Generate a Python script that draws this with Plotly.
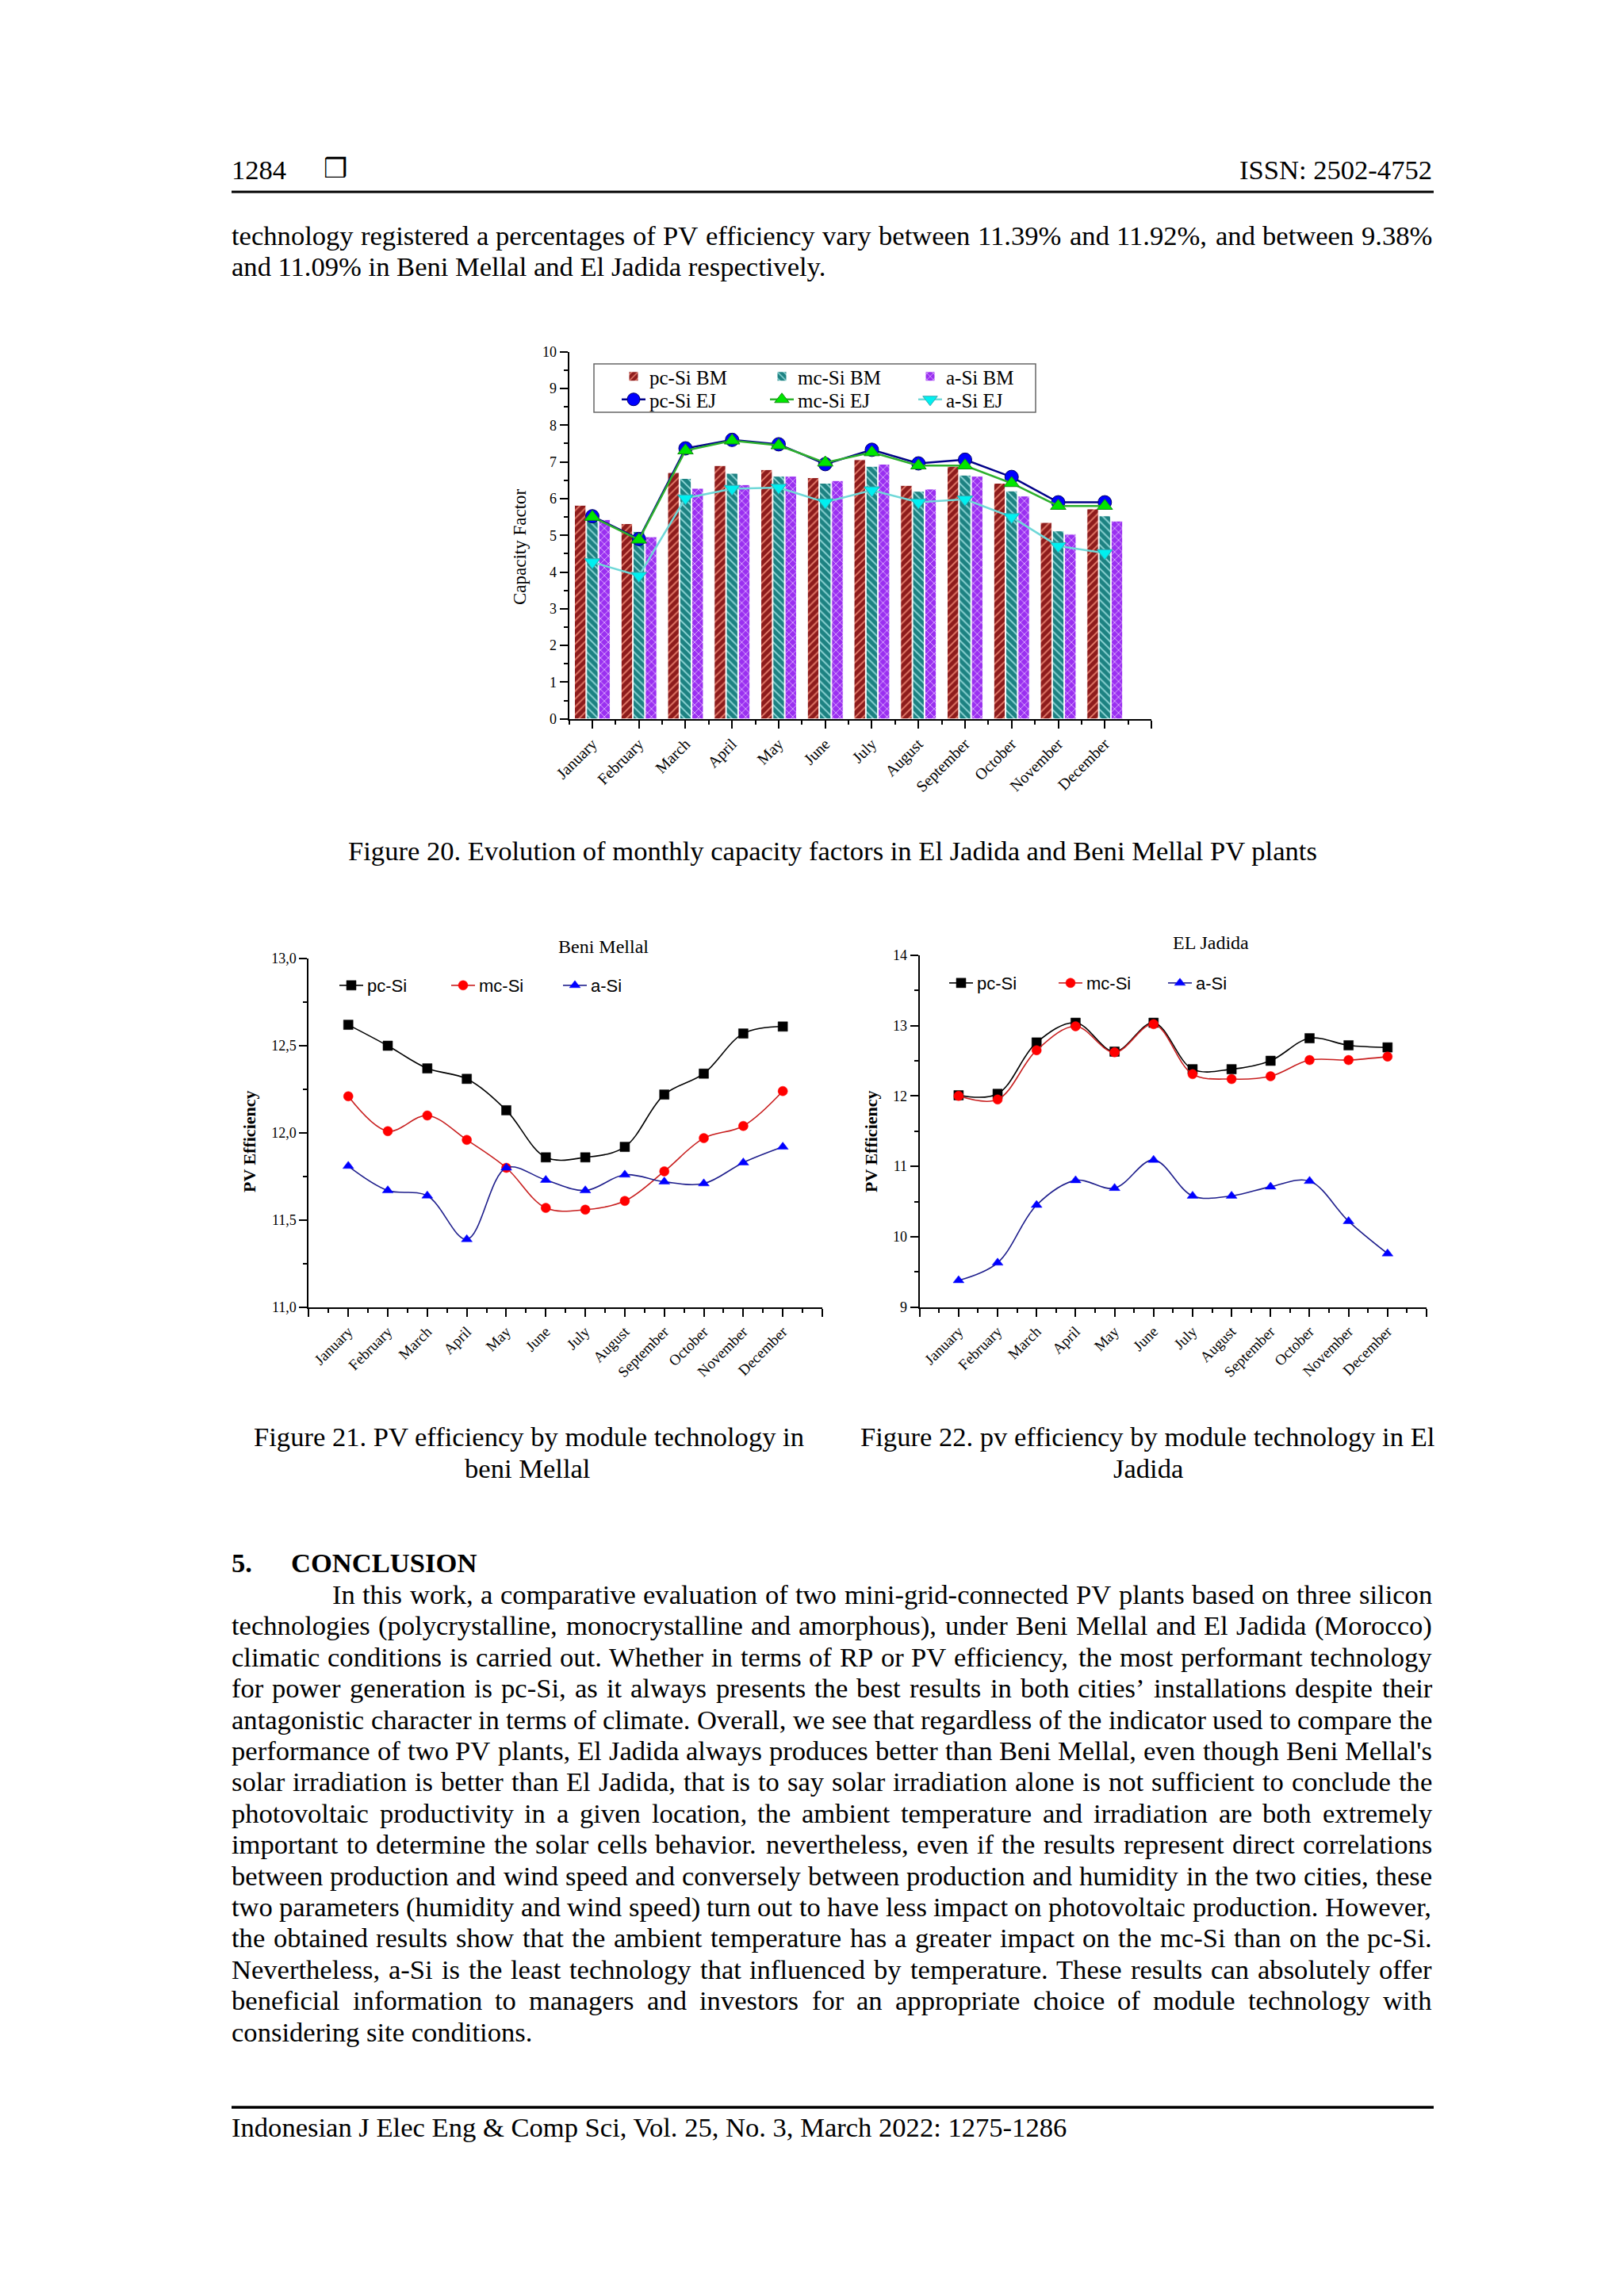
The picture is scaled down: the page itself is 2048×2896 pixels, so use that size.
import plotly.graph_objects as go

W, H = 2048, 2896
SERIF = "Liberation Serif, Times New Roman, serif"
SANS = "Liberation Sans, Arial, sans-serif"
FS = 34.6

# ---------------- data ----------------
months = ["January", "February", "March", "April", "May", "June", "July",
          "August", "September", "October", "November", "December"]
month_pos = list(range(1, 13))

# Figure 20 - capacity factor (%)
cf_pcsi_bm = [5.82, 5.32, 6.71, 6.90, 6.79, 6.57, 7.06, 6.36, 6.88, 6.42, 5.35, 5.72]
cf_mcsi_bm = [5.62, 5.10, 6.55, 6.69, 6.61, 6.42, 6.88, 6.20, 6.64, 6.21, 5.12, 5.53]
cf_asi_bm = [5.43, 4.96, 6.28, 6.38, 6.61, 6.49, 6.94, 6.26, 6.61, 6.07, 5.03, 5.39]
cf_pcsi_ej = [5.52, 4.90, 7.37, 7.60, 7.48, 6.94, 7.33, 6.96, 7.06, 6.59, 5.90, 5.90]
cf_mcsi_ej = [5.50, 4.88, 7.31, 7.58, 7.45, 6.98, 7.26, 6.90, 6.90, 6.42, 5.80, 5.80]
cf_asi_ej = [4.27, 3.90, 6.01, 6.27, 6.30, 5.90, 6.23, 5.90, 5.98, 5.50, 4.71, 4.52]

# Figure 21 - PV efficiency Beni Mellal
bm_pcsi = [12.62, 12.50, 12.37, 12.31, 12.13, 11.86, 11.86, 11.92, 12.22, 12.34, 12.57, 12.61]
bm_mcsi = [12.21, 12.01, 12.10, 11.96, 11.80, 11.57, 11.56, 11.61, 11.78, 11.97, 12.04, 12.24]
bm_asi = [11.81, 11.67, 11.64, 11.39, 11.80, 11.73, 11.67, 11.76, 11.72, 11.71, 11.83, 11.92]

# Figure 22 - PV efficiency El Jadida
ej_pcsi = [12.01, 12.03, 12.76, 13.04, 12.63, 13.04, 12.38, 12.38, 12.50, 12.82, 12.72, 12.69]
ej_mcsi = [12.00, 11.95, 12.65, 12.99, 12.62, 13.02, 12.31, 12.24, 12.28, 12.51, 12.51, 12.56]
ej_asi = [9.38, 9.63, 10.45, 10.80, 10.69, 11.09, 10.58, 10.58, 10.71, 10.79, 10.22, 9.76]

bm_yticks = [11.0, 11.5, 12.0, 12.5, 13.0]
bm_yticktext = ["11,0", "11,5", "12,0", "12,5", "13,0"]

# ---------------- page text ----------------
body_lines = [
    "technology registered a percentages of PV efficiency vary between 11.39% and 11.92%, and between 9.38%",
    "and 11.09% in Beni Mellal and El Jadida respectively.",
]
conclusion_lines = [
    "In this work, a comparative evaluation of two mini-grid-connected PV plants based on three silicon",
    "technologies (polycrystalline, monocrystalline and amorphous), under Beni Mellal and El Jadida (Morocco)",
    "climatic conditions is carried out. Whether in terms of RP or PV efficiency, the most performant technology",
    "for power generation is pc-Si, as it always presents the best results in both cities\u2019 installations despite their",
    "antagonistic character in terms of climate. Overall, we see that regardless of the indicator used to compare the",
    "performance of two PV plants, El Jadida always produces better than Beni Mellal, even though Beni Mellal's",
    "solar irradiation is better than El Jadida, that is to say solar irradiation alone is not sufficient to conclude the",
    "photovoltaic productivity in a given location, the ambient temperature and irradiation are both extremely",
    "important to determine the solar cells behavior. nevertheless, even if the results represent direct correlations",
    "between production and wind speed and conversely between production and humidity in the two cities, these",
    "two parameters (humidity and wind speed) turn out to have less impact on photovoltaic production. However,",
    "the obtained results show that the ambient temperature has a greater impact on the mc-Si than on the pc-Si.",
    "Nevertheless, a-Si is the least technology that influenced by temperature. These results can absolutely offer",
    "beneficial information to managers and investors for an appropriate choice of module technology with",
    "considering site conditions.",
]

_TW = {' ': 250, '!': 333, '"': 408, '#': 500, '$': 500, '%': 833, '&': 778, "'": 180,
       '(': 333, ')': 333, '*': 500, '+': 564, ',': 250, '-': 333, '.': 250, '/': 278,
       ':': 278, ';': 278, '?': 444, '\u2019': 333,
       'A': 722, 'B': 667, 'C': 667, 'D': 722, 'E': 611, 'F': 556, 'G': 722, 'H': 722,
       'I': 333, 'J': 389, 'K': 722, 'L': 611, 'M': 889, 'N': 722, 'O': 722, 'P': 556,
       'Q': 722, 'R': 667, 'S': 556, 'T': 611, 'U': 722, 'V': 722, 'W': 944, 'X': 722,
       'Y': 722, 'Z': 611,
       'a': 444, 'b': 500, 'c': 444, 'd': 500, 'e': 444, 'f': 333, 'g': 500, 'h': 500,
       'i': 278, 'j': 278, 'k': 500, 'l': 278, 'm': 778, 'n': 500, 'o': 500, 'p': 500,
       'q': 500, 'r': 333, 's': 389, 't': 278, 'u': 500, 'v': 500, 'w': 722, 'x': 500,
       'y': 500, 'z': 444}


def tw(s, size):
    return sum(_TW.get(c, 500) for c in s) / 1000.0 * size


def px(x):
    return x / W


def py(y):
    return 1 - y / H


annotations = []


def add_text(x, y, text, size=FS, anchor='left', bold=False, family=SERIF, angle=0):
    t = "<b>%s</b>" % text if bold else text
    annotations.append(dict(x=px(x), y=py(y), xref='paper', yref='paper', text=t,
                            showarrow=False, xanchor=anchor, yanchor='middle',
                            textangle=angle, borderpad=0, borderwidth=0,
                            font=dict(family=family, size=size, color='black')))


def add_justified(x0, x1, y, line, size=FS):
    words = line.split(' ')
    widths = [tw(w_, size) for w_ in words]
    gap = (x1 - x0 - sum(widths)) / (len(words) - 1)
    x = x0
    for w_, wd in zip(words, widths):
        add_text(x, y, w_, size)
        x += wd + gap


LEFT, RIGHT = 292, 1806

# header
add_text(LEFT, 214, "1284")
add_text(423, 212, "\u2752", size=34, anchor='center', family="DejaVu Sans")
add_text(RIGHT, 214, "ISSN: 2502-4752", anchor='right')

# body
add_justified(LEFT, RIGHT, 297, body_lines[0])
add_text(LEFT, 336, body_lines[1])

# captions
add_text(1050, 1073, "Figure 20. Evolution of monthly capacity factors in El Jadida and Beni Mellal PV plants", anchor='center')
add_text(667, 1812, "Figure 21. PV efficiency by module technology in", anchor='center')
add_text(665, 1852, "beni Mellal", anchor='center')
add_text(1447, 1812, "Figure 22. pv efficiency by module technology in El", anchor='center')
add_text(1448, 1852, "Jadida", anchor='center')

# conclusion
add_text(LEFT, 1971, "5.", bold=True)
add_text(367, 1971, "CONCLUSION", bold=True)
for i, line in enumerate(conclusion_lines):
    yy = 2011 + 39.4 * i
    x0 = 419 if i == 0 else LEFT
    if i == len(conclusion_lines) - 1:
        add_text(x0, yy, line)
    else:
        add_justified(x0, RIGHT, yy, line)

# footer
add_text(LEFT, 2683, "Indonesian J Elec Eng & Comp Sci, Vol. 25, No. 3, March 2022: 1275-1286")

# chart titles / axis titles
add_text(655, 690, "Capacity Factor", size=23, anchor='center', angle=-90)
add_text(761, 1194, "Beni Mellal", size=24, anchor='center')
add_text(314, 1440, "PV Efficiency", size=22, anchor='center', angle=-90, bold=True)
add_text(1527, 1189, "EL Jadida", size=24, anchor='center')
add_text(1098, 1440, "PV Efficiency", size=22, anchor='center', angle=-90, bold=True)

# ---------------- figure ----------------
fig = go.Figure()

bar_specs = [
    ("pc-Si BM", cf_pcsi_bm, "#8E1C1C", "#E8806E", "/"),
    ("mc-Si BM", cf_mcsi_bm, "#1D8282", "#95DADA", "\\"),
    ("a-Si BM", cf_asi_bm, "#9A30F0", "#DEAEFF", "x"),
]
for name, vals, bg, fg, shp in bar_specs:
    fig.add_trace(go.Bar(
        x=month_pos, y=vals, name=name, xaxis='x', yaxis='y', legend='legend',
        marker=dict(color=bg, line=dict(color='white', width=1),
                    pattern=dict(shape=shp, fgcolor=fg, bgcolor=bg, size=7, solidity=0.25))))

line_specs = [
    ("pc-Si EJ", cf_pcsi_ej, "#000088", "circle", "#0000FF", "#00006A"),
    ("mc-Si EJ", cf_mcsi_ej, "#2DB02D", "triangle-up", "#00E600", "#138A13"),
    ("a-Si EJ", cf_asi_ej, "#70D8D8", "triangle-down", "#00F0F0", "#30A8B0"),
]
for name, vals, lc, sym, mc, ml in line_specs:
    fig.add_trace(go.Scatter(
        x=month_pos, y=vals, name=name, xaxis='x', yaxis='y', legend='legend2',
        mode='lines+markers', cliponaxis=False,
        line=dict(color=lc, width=2.5),
        marker=dict(symbol=sym, size=17, color=mc, line=dict(color=ml, width=1))))

tech_specs = [
    ("pc-Si", "#000000", "square", "#000000"),
    ("mc-Si", "#C81E1E", "circle", "#FF0000"),
    ("a-Si", "#1E1E8C", "triangle-up", "#0000FF"),
]
for (name, lc, sym, mc), vals in zip(tech_specs, [bm_pcsi, bm_mcsi, bm_asi]):
    fig.add_trace(go.Scatter(
        x=month_pos, y=vals, name=name, xaxis='x2', yaxis='y2', legend='legend3',
        mode='lines+markers', cliponaxis=False,
        line=dict(color=lc, width=1.6, shape='spline', smoothing=1.0),
        marker=dict(symbol=sym, size=12, color=mc, line=dict(color=mc, width=0.5))))
for (name, lc, sym, mc), vals in zip(tech_specs, [ej_pcsi, ej_mcsi, ej_asi]):
    fig.add_trace(go.Scatter(
        x=month_pos, y=vals, name=name, xaxis='x3', yaxis='y3', legend='legend4',
        mode='lines+markers', cliponaxis=False,
        line=dict(color=lc, width=1.6, shape='spline', smoothing=1.0),
        marker=dict(symbol=sym, size=12, color=mc, line=dict(color=mc, width=0.5))))

ax = dict(showgrid=False, zeroline=False, showline=True, linecolor='black', linewidth=2,
          ticks='outside', tickcolor='black', tickwidth=2, ticklen=10, mirror=False,
          automargin=False, tickfont=dict(family=SERIF, size=18, color='black'))


def xax(domain, rng, vals, text, anchor, size):
    d = dict(ax)
    d.update(domain=domain, range=rng, anchor=anchor, tickmode='array', tickvals=vals,
             ticktext=text, tickangle=-45, tickfont=dict(family=SERIF, size=size, color='black'),
             minor=dict(tick0=0.5, dtick=1, ticks='outside', ticklen=5, tickwidth=1.5, tickcolor='black'))
    return d


def yax(domain, rng, anchor, minor0, minord, **kw):
    d = dict(ax)
    d.update(domain=domain, range=rng, anchor=anchor,
             minor=dict(tick0=minor0, dtick=minord, ticks='outside', ticklen=5, tickwidth=1.5, tickcolor='black'))
    d.update(kw)
    return d


fig.update_layout(
    template='none',
    width=W, height=H, autosize=False,
    margin=dict(l=0, r=0, t=0, b=0, pad=0, autoexpand=False),
    paper_bgcolor='white', plot_bgcolor='white',
    barmode='group', bargap=0.22, bargroupgap=0.06,
    xaxis=xax([px(717.6), px(1452)], [0.5, 13], month_pos + [13], months + [""], 'y', 20),
    yaxis=yax([py(906.8), py(443.7)], [0, 10], 'x', 0.5, 1, dtick=1, tick0=0),
    xaxis2=xax([px(389.4), px(1037)], [0, 13], [0] + month_pos + [13], [""] + months + [""], 'y2', 19),
    yaxis2=yax([py(1649), py(1209)], [11, 13], 'x2', 11.25, 0.5, tickmode='array',
               tickvals=bm_yticks, ticktext=bm_yticktext),
    xaxis3=xax([px(1159.7), px(1799)], [0, 13], [0] + month_pos + [13], [""] + months + [""], 'y3', 19),
    yaxis3=yax([py(1648.7), py(1204.8)], [9, 14], 'x3', 9.5, 1, dtick=1, tick0=9),
    legend=dict(x=px(779), y=py(475), xanchor='left', yanchor='middle', orientation='h',
                entrywidth=142, entrywidthmode='pixels', bgcolor='rgba(0,0,0,0)', borderwidth=0,
                font=dict(family=SERIF, size=25, color='black'), traceorder='normal'),
    legend2=dict(x=px(779), y=py(504), xanchor='left', yanchor='middle', orientation='h',
                 entrywidth=142, entrywidthmode='pixels', bgcolor='rgba(0,0,0,0)', borderwidth=0,
                 font=dict(family=SERIF, size=25, color='black'), traceorder='normal'),
    legend3=dict(x=px(423), y=py(1243), xanchor='left', yanchor='middle', orientation='h',
                 entrywidth=96, entrywidthmode='pixels', bgcolor='rgba(0,0,0,0)', borderwidth=0,
                 font=dict(family=SANS, size=22, color='black'), traceorder='normal'),
    legend4=dict(x=px(1192), y=py(1240), xanchor='left', yanchor='middle', orientation='h',
                 entrywidth=93, entrywidthmode='pixels', bgcolor='rgba(0,0,0,0)', borderwidth=0,
                 font=dict(family=SANS, size=22, color='black'), traceorder='normal'),
    annotations=annotations,
    shapes=[
        dict(type='line', xref='paper', yref='paper', x0=px(292), x1=px(1808), y0=py(242), y1=py(242),
             line=dict(color='black', width=3)),
        dict(type='line', xref='paper', yref='paper', x0=px(292), x1=px(1808), y0=py(2658), y1=py(2658),
             line=dict(color='black', width=3.5)),
        dict(type='rect', xref='paper', yref='paper', x0=px(749), x1=px(1306), y0=py(520), y1=py(459),
             line=dict(color='#666666', width=1.5)),
    ],
)

fig.write_html(
    "out.html",
    config={'displayModeBar': False},
    post_script="document.body.style.margin='0px';document.body.style.overflow='hidden';"
                "document.documentElement.style.overflow='hidden';",
)
